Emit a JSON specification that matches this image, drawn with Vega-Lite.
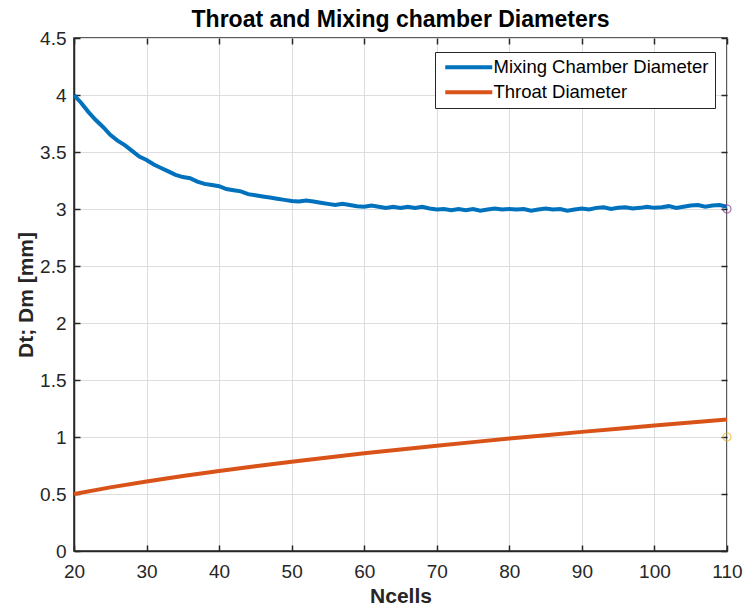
{
  "$schema": "https://vega.github.io/schema/vega-lite/v6.json",
  "width": 653,
  "height": 513,
  "autosize": {"type": "none"},
  "padding": {"left": 74, "top": 38, "right": 18, "bottom": 58},
  "background": "white",
  "config": {
    "font": "Liberation Sans",
    "view": {"stroke": "#262626", "strokeWidth": 1.5},
    "axis": {
      "labelFont": "Liberation Sans",
      "titleFont": "Liberation Sans",
      "labelFontSize": 19,
      "titleFontSize": 21,
      "labelColor": "#262626",
      "titleColor": "#262626",
      "titleFontWeight": "bold",
      "domainColor": "#262626",
      "domainWidth": 1.5,
      "tickColor": "#262626",
      "tickWidth": 1.5,
      "tickSize": -6,
      "gridColor": "#dedede",
      "gridWidth": 1
    },
    "title": {"font": "Liberation Sans", "fontSize": 23, "fontWeight": "bold", "color": "#000000"}
  },
  "title": {"text": "Throat and Mixing chamber Diameters", "offset": -3},
  "datasets": {
    "lines": [
      {"n": 20, "d": 4.00, "s": "Mixing Chamber Diameter"},
      {"n": 21, "d": 3.93, "s": "Mixing Chamber Diameter"},
      {"n": 22, "d": 3.85, "s": "Mixing Chamber Diameter"},
      {"n": 23, "d": 3.78, "s": "Mixing Chamber Diameter"},
      {"n": 24, "d": 3.72, "s": "Mixing Chamber Diameter"},
      {"n": 25, "d": 3.65, "s": "Mixing Chamber Diameter"},
      {"n": 26, "d": 3.60, "s": "Mixing Chamber Diameter"},
      {"n": 27, "d": 3.56, "s": "Mixing Chamber Diameter"},
      {"n": 28, "d": 3.51, "s": "Mixing Chamber Diameter"},
      {"n": 29, "d": 3.46, "s": "Mixing Chamber Diameter"},
      {"n": 30, "d": 3.43, "s": "Mixing Chamber Diameter"},
      {"n": 31, "d": 3.39, "s": "Mixing Chamber Diameter"},
      {"n": 32, "d": 3.36, "s": "Mixing Chamber Diameter"},
      {"n": 33, "d": 3.33, "s": "Mixing Chamber Diameter"},
      {"n": 34, "d": 3.30, "s": "Mixing Chamber Diameter"},
      {"n": 35, "d": 3.28, "s": "Mixing Chamber Diameter"},
      {"n": 36, "d": 3.27, "s": "Mixing Chamber Diameter"},
      {"n": 37, "d": 3.24, "s": "Mixing Chamber Diameter"},
      {"n": 38, "d": 3.22, "s": "Mixing Chamber Diameter"},
      {"n": 39, "d": 3.21, "s": "Mixing Chamber Diameter"},
      {"n": 40, "d": 3.20, "s": "Mixing Chamber Diameter"},
      {"n": 41, "d": 3.175, "s": "Mixing Chamber Diameter"},
      {"n": 42, "d": 3.165, "s": "Mixing Chamber Diameter"},
      {"n": 43, "d": 3.155, "s": "Mixing Chamber Diameter"},
      {"n": 44, "d": 3.13, "s": "Mixing Chamber Diameter"},
      {"n": 45, "d": 3.12, "s": "Mixing Chamber Diameter"},
      {"n": 46, "d": 3.11, "s": "Mixing Chamber Diameter"},
      {"n": 47, "d": 3.10, "s": "Mixing Chamber Diameter"},
      {"n": 48, "d": 3.09, "s": "Mixing Chamber Diameter"},
      {"n": 49, "d": 3.08, "s": "Mixing Chamber Diameter"},
      {"n": 50, "d": 3.07, "s": "Mixing Chamber Diameter"},
      {"n": 51, "d": 3.065, "s": "Mixing Chamber Diameter"},
      {"n": 52, "d": 3.075, "s": "Mixing Chamber Diameter"},
      {"n": 53, "d": 3.065, "s": "Mixing Chamber Diameter"},
      {"n": 54, "d": 3.055, "s": "Mixing Chamber Diameter"},
      {"n": 55, "d": 3.045, "s": "Mixing Chamber Diameter"},
      {"n": 56, "d": 3.035, "s": "Mixing Chamber Diameter"},
      {"n": 57, "d": 3.045, "s": "Mixing Chamber Diameter"},
      {"n": 58, "d": 3.035, "s": "Mixing Chamber Diameter"},
      {"n": 59, "d": 3.025, "s": "Mixing Chamber Diameter"},
      {"n": 60, "d": 3.02, "s": "Mixing Chamber Diameter"},
      {"n": 61, "d": 3.03, "s": "Mixing Chamber Diameter"},
      {"n": 62, "d": 3.02, "s": "Mixing Chamber Diameter"},
      {"n": 63, "d": 3.01, "s": "Mixing Chamber Diameter"},
      {"n": 64, "d": 3.02, "s": "Mixing Chamber Diameter"},
      {"n": 65, "d": 3.01, "s": "Mixing Chamber Diameter"},
      {"n": 66, "d": 3.02, "s": "Mixing Chamber Diameter"},
      {"n": 67, "d": 3.01, "s": "Mixing Chamber Diameter"},
      {"n": 68, "d": 3.02, "s": "Mixing Chamber Diameter"},
      {"n": 69, "d": 3.005, "s": "Mixing Chamber Diameter"},
      {"n": 70, "d": 2.995, "s": "Mixing Chamber Diameter"},
      {"n": 71, "d": 3.00, "s": "Mixing Chamber Diameter"},
      {"n": 72, "d": 2.99, "s": "Mixing Chamber Diameter"},
      {"n": 73, "d": 3.00, "s": "Mixing Chamber Diameter"},
      {"n": 74, "d": 2.99, "s": "Mixing Chamber Diameter"},
      {"n": 75, "d": 3.00, "s": "Mixing Chamber Diameter"},
      {"n": 76, "d": 2.985, "s": "Mixing Chamber Diameter"},
      {"n": 77, "d": 2.995, "s": "Mixing Chamber Diameter"},
      {"n": 78, "d": 3.005, "s": "Mixing Chamber Diameter"},
      {"n": 79, "d": 2.995, "s": "Mixing Chamber Diameter"},
      {"n": 80, "d": 3.00, "s": "Mixing Chamber Diameter"},
      {"n": 81, "d": 2.995, "s": "Mixing Chamber Diameter"},
      {"n": 82, "d": 3.00, "s": "Mixing Chamber Diameter"},
      {"n": 83, "d": 2.985, "s": "Mixing Chamber Diameter"},
      {"n": 84, "d": 2.995, "s": "Mixing Chamber Diameter"},
      {"n": 85, "d": 3.005, "s": "Mixing Chamber Diameter"},
      {"n": 86, "d": 2.995, "s": "Mixing Chamber Diameter"},
      {"n": 87, "d": 3.00, "s": "Mixing Chamber Diameter"},
      {"n": 88, "d": 2.985, "s": "Mixing Chamber Diameter"},
      {"n": 89, "d": 2.995, "s": "Mixing Chamber Diameter"},
      {"n": 90, "d": 3.005, "s": "Mixing Chamber Diameter"},
      {"n": 91, "d": 2.995, "s": "Mixing Chamber Diameter"},
      {"n": 92, "d": 3.01, "s": "Mixing Chamber Diameter"},
      {"n": 93, "d": 3.015, "s": "Mixing Chamber Diameter"},
      {"n": 94, "d": 3.00, "s": "Mixing Chamber Diameter"},
      {"n": 95, "d": 3.01, "s": "Mixing Chamber Diameter"},
      {"n": 96, "d": 3.015, "s": "Mixing Chamber Diameter"},
      {"n": 97, "d": 3.005, "s": "Mixing Chamber Diameter"},
      {"n": 98, "d": 3.01, "s": "Mixing Chamber Diameter"},
      {"n": 99, "d": 3.02, "s": "Mixing Chamber Diameter"},
      {"n": 100, "d": 3.01, "s": "Mixing Chamber Diameter"},
      {"n": 101, "d": 3.015, "s": "Mixing Chamber Diameter"},
      {"n": 102, "d": 3.025, "s": "Mixing Chamber Diameter"},
      {"n": 103, "d": 3.01, "s": "Mixing Chamber Diameter"},
      {"n": 104, "d": 3.02, "s": "Mixing Chamber Diameter"},
      {"n": 105, "d": 3.03, "s": "Mixing Chamber Diameter"},
      {"n": 106, "d": 3.035, "s": "Mixing Chamber Diameter"},
      {"n": 107, "d": 3.02, "s": "Mixing Chamber Diameter"},
      {"n": 108, "d": 3.03, "s": "Mixing Chamber Diameter"},
      {"n": 109, "d": 3.035, "s": "Mixing Chamber Diameter"},
      {"n": 110, "d": 3.02, "s": "Mixing Chamber Diameter"},
      {"n": 20, "d": 0.500, "s": "Throat Diameter"},
      {"n": 25, "d": 0.558, "s": "Throat Diameter"},
      {"n": 30, "d": 0.610, "s": "Throat Diameter"},
      {"n": 35, "d": 0.658, "s": "Throat Diameter"},
      {"n": 40, "d": 0.702, "s": "Throat Diameter"},
      {"n": 45, "d": 0.744, "s": "Throat Diameter"},
      {"n": 50, "d": 0.783, "s": "Throat Diameter"},
      {"n": 55, "d": 0.821, "s": "Throat Diameter"},
      {"n": 60, "d": 0.857, "s": "Throat Diameter"},
      {"n": 65, "d": 0.891, "s": "Throat Diameter"},
      {"n": 70, "d": 0.924, "s": "Throat Diameter"},
      {"n": 75, "d": 0.955, "s": "Throat Diameter"},
      {"n": 80, "d": 0.986, "s": "Throat Diameter"},
      {"n": 85, "d": 1.016, "s": "Throat Diameter"},
      {"n": 90, "d": 1.045, "s": "Throat Diameter"},
      {"n": 95, "d": 1.073, "s": "Throat Diameter"},
      {"n": 100, "d": 1.100, "s": "Throat Diameter"},
      {"n": 105, "d": 1.127, "s": "Throat Diameter"},
      {"n": 110, "d": 1.153, "s": "Throat Diameter"}
    ],
    "marks": [
      {"n": 110, "d": 3.0, "c": "#7E2F8E"},
      {"n": 110, "d": 1.0, "c": "#EDB120"}
    ]
  },
  "layer": [
    {
      "data": {"name": "lines"},
      "mark": {"type": "line", "strokeWidth": 4, "clip": true},
      "encoding": {
        "x": {
          "field": "n", "type": "quantitative",
          "scale": {"domain": [20, 110], "nice": false, "zero": false},
          "axis": {"values": [20, 30, 40, 50, 60, 70, 80, 90, 100, 110], "title": "Ncells", "grid": true, "labelPadding": 17, "titlePadding": 4, "labelFlush": false}
        },
        "y": {
          "field": "d", "type": "quantitative",
          "scale": {"domain": [0, 4.5], "nice": false},
          "axis": {"values": [0, 0.5, 1, 1.5, 2, 2.5, 3, 3.5, 4, 4.5], "format": "~g", "title": "Dt; Dm [mm]", "grid": true, "labelPadding": 14, "titlePadding": 3}
        },
        "color": {
          "field": "s", "type": "nominal",
          "scale": {"domain": ["Mixing Chamber Diameter", "Throat Diameter"], "range": ["#0072BD", "#D95319"]},
          "legend": {
            "title": null,
            "orient": "none",
            "legendX": 361,
            "legendY": 14,
            "symbolType": "M-1,0H8.4",
            "symbolSize": 100,
            "symbolStrokeWidth": 4,
            "labelFont": "Liberation Sans",
            "labelFontSize": 18.5,
            "labelColor": "#000000",
            "labelOffset": 34,
            "rowPadding": 6,
            "fillColor": "white",
            "strokeColor": "#262626",
            "padding": 6,
            "labelLimit": 400
          }
        }
      }
    },
    {
      "data": {"name": "marks"},
      "mark": {"type": "point", "shape": "circle", "filled": false, "size": 64, "strokeWidth": 1.2},
      "encoding": {
        "x": {
          "field": "n", "type": "quantitative",
          "axis": {"orient": "top", "values": [20, 30, 40, 50, 60, 70, 80, 90, 100, 110], "labels": false, "title": null, "grid": false, "domain": false}
        },
        "y": {
          "field": "d", "type": "quantitative",
          "axis": {"orient": "right", "values": [0, 0.5, 1, 1.5, 2, 2.5, 3, 3.5, 4, 4.5], "labels": false, "title": null, "grid": false, "domain": false}
        },
        "stroke": {"field": "c", "type": "nominal", "scale": null}
      }
    }
  ],
  "resolve": {"axis": {"x": "independent", "y": "independent"}}
}
